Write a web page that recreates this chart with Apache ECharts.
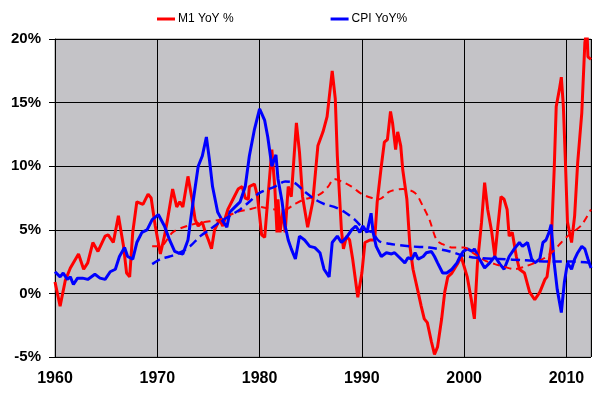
<!DOCTYPE html>
<html>
<head>
<meta charset="utf-8">
<script src="https://cdn.jsdelivr.net/npm/echarts@6/dist/echarts.min.js"></script>
<style>
  html, body { margin: 0; padding: 0; background: #fff; }
  #chart { width: 600px; height: 396px; }
</style>
</head>
<body>
<div id="chart"></div>
<script>
// M1 year-on-year growth, [year, %]
var m1 = [
  [1960.0, 0.9], [1960.5, -1.0], [1961.0, 1.0], [1961.5, 2.0], [1962.3, 3.1], [1962.8, 1.9],
  [1963.2, 2.4], [1963.7, 4.0], [1964.2, 3.3], [1964.9, 4.5], [1965.2, 4.6], [1965.7, 4.0],
  [1966.2, 6.1], [1966.7, 3.7], [1967.0, 1.6], [1967.3, 1.3], [1967.6, 4.8], [1968.0, 7.2],
  [1968.6, 7.0], [1969.1, 7.8], [1969.4, 7.5], [1969.8, 5.3], [1970.3, 3.1], [1970.7, 4.5],
  [1971.0, 5.8], [1971.5, 8.2], [1971.9, 6.8], [1972.2, 7.2], [1972.5, 6.8], [1973.0, 9.2],
  [1973.4, 7.4], [1973.7, 5.8], [1974.0, 5.3], [1974.4, 5.6], [1974.7, 4.8], [1975.0, 4.2],
  [1975.3, 3.5], [1975.6, 5.0], [1976.1, 5.8], [1976.4, 5.3], [1976.9, 6.6], [1977.4, 7.4],
  [1977.9, 8.2], [1978.3, 8.4], [1978.6, 7.5], [1978.9, 7.4], [1979.0, 8.4], [1979.5, 8.6],
  [1979.8, 7.6], [1980.2, 4.6], [1980.5, 4.4], [1980.8, 7.4], [1981.2, 11.3], [1981.5, 8.2],
  [1981.7, 4.8], [1981.8, 7.4], [1982.0, 4.8], [1982.3, 6.6], [1982.5, 4.8], [1982.8, 8.4],
  [1983.1, 7.6], [1983.6, 13.4], [1983.9, 11.1], [1984.2, 7.6], [1984.7, 5.2], [1985.2, 7.2],
  [1985.7, 11.6], [1986.2, 12.7], [1986.6, 13.9], [1987.1, 17.5], [1987.4, 15.3], [1987.6, 10.8],
  [1988.0, 5.0], [1988.2, 3.5], [1988.5, 4.5], [1988.8, 4.2], [1989.1, 2.7], [1989.6, -0.3],
  [1990.0, 1.6], [1990.3, 4.0], [1990.8, 4.2], [1991.25, 4.2], [1991.5, 7.2], [1991.9, 10.0],
  [1992.2, 11.9], [1992.5, 12.1], [1992.8, 14.3], [1993.0, 13.4], [1993.3, 11.3], [1993.5, 12.7],
  [1993.8, 11.6], [1994.0, 9.7], [1994.4, 7.4], [1994.7, 3.7], [1995.0, 1.9], [1995.5, 0.1],
  [1995.8, -1.0], [1996.1, -2.0], [1996.4, -2.3], [1996.8, -3.8], [1997.1, -4.8], [1997.4, -4.2],
  [1997.8, -2.0], [1998.1, 0.1], [1998.4, 1.3], [1998.8, 1.6], [1999.1, 2.0], [1999.4, 2.4],
  [1999.7, 2.9], [2000.0, 2.1], [2000.3, 1.3], [2000.7, -0.5], [2001.0, -2.0], [2001.3, 2.4],
  [2001.7, 5.6], [2002.0, 8.7], [2002.3, 6.6], [2002.7, 4.8], [2003.0, 2.9], [2003.3, 5.3],
  [2003.6, 7.6], [2003.9, 7.4], [2004.2, 6.6], [2004.4, 4.5], [2004.7, 4.8], [2005.1, 2.9],
  [2005.4, 1.9], [2005.9, 1.6], [2006.4, 0.1], [2006.9, -0.5], [2007.4, 0.1], [2007.9, 1.1],
  [2008.1, 1.3], [2008.5, 3.7], [2008.8, 9.7], [2009.0, 14.7], [2009.3, 16.0], [2009.5, 17.0],
  [2009.7, 14.7], [2009.9, 10.3], [2010.1, 5.6], [2010.5, 4.0], [2010.8, 6.1], [2011.1, 10.3],
  [2011.5, 14.2], [2011.8, 19.7], [2012.0, 20.8], [2012.1, 18.6], [2012.4, 18.4]
];

// CPI year-on-year, [year, %]
var cpi = [
  [1960.0, 1.7], [1960.5, 1.3], [1960.8, 1.6], [1961.2, 1.1], [1961.5, 1.3], [1961.8, 0.7],
  [1962.2, 1.2], [1962.7, 1.2], [1963.2, 1.1], [1963.9, 1.5], [1964.4, 1.2], [1964.9, 1.1],
  [1965.4, 1.7], [1965.9, 1.9], [1966.3, 2.9], [1966.8, 3.6], [1967.1, 2.9], [1967.6, 2.7],
  [1968.0, 4.0], [1968.5, 4.8], [1969.0, 5.0], [1969.5, 5.8], [1970.1, 6.2], [1970.7, 5.3],
  [1971.2, 4.2], [1971.7, 3.3], [1972.0, 3.2], [1972.5, 3.1], [1973.0, 4.2], [1973.5, 7.2],
  [1974.0, 10.0], [1974.4, 10.8], [1974.8, 12.3], [1975.1, 10.5], [1975.4, 8.4], [1975.9, 6.4],
  [1976.3, 5.8], [1976.8, 5.2], [1977.1, 6.4], [1977.6, 6.8], [1978.1, 7.2], [1978.6, 8.4],
  [1979.0, 10.8], [1979.5, 12.9], [1980.0, 14.5], [1980.5, 13.6], [1980.8, 12.3], [1981.2, 10.0],
  [1981.6, 10.9], [1981.8, 9.0], [1982.2, 7.2], [1982.5, 5.3], [1982.8, 4.2], [1983.1, 3.5],
  [1983.5, 2.7], [1983.9, 4.5], [1984.4, 4.2], [1984.9, 3.7], [1985.4, 3.6], [1985.9, 3.2],
  [1986.3, 1.9], [1986.8, 1.3], [1987.1, 4.0], [1987.6, 4.5], [1988.0, 4.0], [1988.5, 4.4],
  [1989.0, 5.0], [1989.4, 5.3], [1989.8, 4.8], [1990.1, 5.3], [1990.5, 4.8], [1990.9, 6.3],
  [1991.1, 4.8], [1991.4, 3.7], [1991.9, 2.9], [1992.4, 3.2], [1992.9, 3.1], [1993.2, 3.2],
  [1993.7, 2.8], [1994.2, 2.4], [1994.5, 2.8], [1994.9, 2.7], [1995.2, 3.2], [1995.5, 2.7],
  [1996.0, 2.9], [1996.3, 3.2], [1996.8, 3.3], [1997.1, 2.9], [1997.4, 2.4], [1997.9, 1.6],
  [1998.3, 1.6], [1998.8, 1.9], [1999.3, 2.4], [1999.6, 2.9], [1999.9, 3.3], [2000.3, 3.5],
  [2000.8, 3.3], [2001.0, 3.5], [2001.5, 2.7], [2002.0, 2.0], [2002.5, 2.4], [2003.0, 2.9],
  [2003.5, 2.3], [2003.9, 1.9], [2004.4, 2.9], [2004.9, 3.5], [2005.4, 4.0], [2005.7, 3.7],
  [2006.2, 4.0], [2006.6, 2.7], [2006.9, 2.4], [2007.4, 2.7], [2007.7, 4.0], [2008.0, 4.2],
  [2008.3, 4.8], [2008.5, 5.4], [2008.8, 2.4], [2009.1, 0.3], [2009.5, -1.5], [2009.8, 0.9],
  [2010.1, 2.4], [2010.5, 1.9], [2010.8, 2.7], [2011.1, 3.2], [2011.5, 3.7], [2011.8, 3.5],
  [2012.1, 2.7], [2012.4, 2.0]
];

// 10-year averages (dashed)
var m1Avg = [
  [1969.5, 3.7], [1970.3, 3.7], [1971.5, 4.8], [1972.9, 5.3], [1974.5, 5.6], [1976.1, 5.8],
  [1977.8, 6.4], [1979.0, 6.6], [1980.0, 6.8], [1981.5, 6.6], [1982.5, 6.6], [1983.4, 7.0],
  [1984.4, 7.4], [1985.4, 7.6], [1986.1, 7.9], [1986.7, 8.4], [1987.3, 9.0], [1988.0, 8.8],
  [1989.0, 8.4], [1990.0, 7.8], [1991.0, 7.5], [1991.7, 7.4], [1992.7, 8.0], [1994.0, 8.2],
  [1995.2, 7.9], [1996.0, 6.8], [1996.6, 5.8], [1997.3, 4.2], [1997.8, 3.9], [1998.9, 3.6],
  [2000.0, 3.6], [2001.0, 3.1], [2002.0, 2.6], [2003.0, 2.3], [2003.9, 2.1], [2004.9, 1.9],
  [2005.9, 2.1], [2006.9, 2.4], [2007.9, 2.8], [2008.8, 3.4], [2009.5, 4.0], [2010.1, 4.5],
  [2010.8, 4.9], [2011.5, 5.4], [2012.4, 6.6]
];

var cpiAvg = [
  [1969.5, 2.3], [1970.3, 2.7], [1971.2, 2.9], [1972.2, 3.2], [1973.2, 3.7], [1974.2, 4.5],
  [1975.1, 5.0], [1976.1, 5.6], [1977.1, 6.1], [1978.1, 6.6], [1979.0, 7.2], [1980.0, 7.9],
  [1981.5, 8.4], [1982.5, 8.8], [1983.4, 8.7], [1984.4, 8.0], [1985.4, 7.4], [1986.4, 7.0],
  [1987.3, 6.8], [1988.3, 6.4], [1989.3, 5.8], [1990.3, 5.0], [1991.0, 4.8], [1991.7, 4.1],
  [1992.7, 3.9], [1994.7, 3.7], [1996.6, 3.6], [1998.6, 3.3], [1999.8, 3.0], [2001.2, 2.8],
  [2003.5, 2.7], [2006.0, 2.6], [2008.5, 2.5], [2010.5, 2.5], [2012.4, 2.4]
];

var chart = echarts.init(document.getElementById('chart'));
var font = 'Liberation Sans, Arial, sans-serif';

chart.setOption({
  animation: false,
  legend: {
    data: ['M1 YoY %', 'CPI YoY%'],
    left: 152,
    top: 8,
    icon: 'rect',
    itemWidth: 18,
    itemHeight: 3,
    itemGap: 97,
    textStyle: { fontFamily: font, fontSize: 12, color: '#000', padding: [0, 0, 0, -2] }
  },
  grid: {
    left: 55, right: 9, top: 39, bottom: 39,
    show: true,
    backgroundColor: '#c4c3c7',
    borderColor: '#8a8a8a',
    borderWidth: 1
  },
  xAxis: {
    type: 'value',
    min: 1960,
    max: 2012.4,
    interval: 10,
    axisLine: { lineStyle: { color: '#000', width: 1 } },
    axisTick: { length: 6, lineStyle: { color: '#000' } },
    splitLine: { show: true, lineStyle: { color: '#000', width: 1 } },
    axisLabel: {
      margin: 14,
      fontFamily: font, fontSize: 16, fontWeight: 'bold', color: '#000',
      showMaxLabel: false,
      formatter: function (v) { return v % 10 === 0 ? String(v) : ''; }
    }
  },
  yAxis: {
    type: 'value',
    min: -5,
    max: 20,
    interval: 5,
    axisLine: { show: true, lineStyle: { color: '#000', width: 1 } },
    axisTick: { show: true, length: 6, lineStyle: { color: '#000' } },
    splitLine: { show: true, lineStyle: { color: '#000', width: 1 } },
    axisLabel: {
      margin: 14,
      fontFamily: font, fontSize: 15, fontWeight: 'bold', color: '#000',
      formatter: '{value}%'
    }
  },
  series: [
    {
      name: 'M1 YoY %', type: 'line', data: m1, showSymbol: false, symbol: 'none',
      color: '#ff0000', lineStyle: { color: '#ff0000', width: 3 }
    },
    {
      name: 'CPI YoY%', type: 'line', data: cpi, showSymbol: false, symbol: 'none',
      color: '#0000ff', lineStyle: { color: '#0000ff', width: 3 }
    },
    {
      name: 'M1 avg', type: 'line', data: m1Avg, showSymbol: false, symbol: 'none', smooth: 0.3,
      lineStyle: { color: '#ff0000', width: 2, type: [7, 5] }
    },
    {
      name: 'CPI avg', type: 'line', data: cpiAvg, showSymbol: false, symbol: 'none', smooth: 0.3,
      lineStyle: { color: '#0000ff', width: 2.5, type: [9, 5] }
    }
  ]
});
</script>
</body>
</html>
